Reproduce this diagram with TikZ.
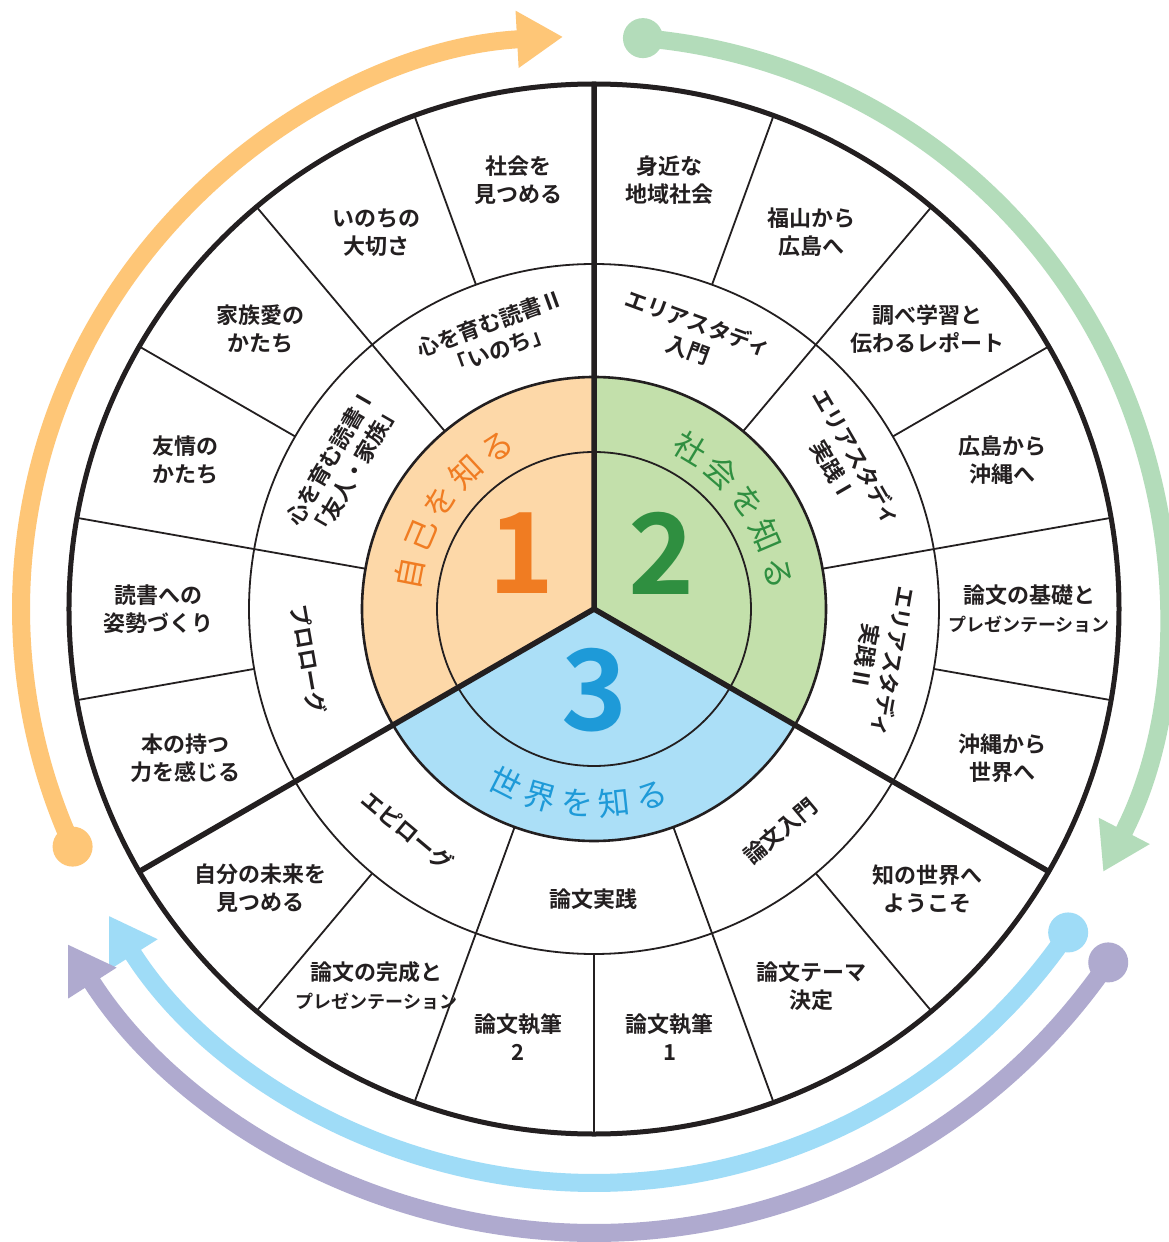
\documentclass[tikz,border=0pt]{standalone}
\usepackage{fontspec}
\newfontfamily\jpfont{Noto Sans CJK JP}[BoldFont={Noto Sans CJK JP Bold}]
\usetikzlibrary{arrows.meta}
\definecolor{ink}{HTML}{231F20}
\definecolor{orfill}{HTML}{FDD8A8}
\definecolor{grfill}{HTML}{C3E0AB}
\definecolor{blfill}{HTML}{ABDFF7}
\definecolor{ortext}{HTML}{F07C22}
\definecolor{grtext}{HTML}{2F8F40}
\definecolor{bltext}{HTML}{1E9AD8}
\definecolor{orarrow}{HTML}{FEC677}
\definecolor{grarrow}{HTML}{B3DCBA}
\definecolor{blarrow}{HTML}{9FDCF7}
\definecolor{puarrow}{HTML}{AFAACF}
\tikzset{ring/.style={draw=ink, line width=1.8pt},
  rim/.style={draw=ink, line width=5pt},
  divide/.style={draw=ink, line width=5.5pt},
  lab/.style={font=\jpfont\bfseries\fontsize{22}{28}\selectfont, align=center, text=ink, inner sep=0pt},
  curved/.style={font=\jpfont\fontsize{32}{32}\selectfont, inner sep=0pt},
  digit/.style={font=\jpfont\bfseries\fontsize{112}{112}\selectfont, inner sep=0pt},
  cyc/.style={line width=18pt, -{Triangle[length=46pt,width=54pt]}}}

\begin{document}
\begin{tikzpicture}[x=1pt,y=1pt]
     \useasboundingbox (-594,-633) rectangle (575,609);
     \fill[white] (-594,-633) rectangle (575,609);
     % three fields
     \fill[orfill] (0,0) -- (90:232) arc[start angle=90, end angle=210, radius=232] -- cycle;
     \fill[grfill] (0,0) -- (-30:232) arc[start angle=-30, end angle=90, radius=232] -- cycle;
     \fill[blfill] (0,0) -- (210:232) arc[start angle=210, end angle=330, radius=232] -- cycle;
     \draw[ring] (0,0) circle[radius=157];
     \draw[ring, line width=2.6pt] (0,0) circle[radius=232];
     \draw[ring] (0,0) circle[radius=345];
     \foreach \a in {10,50,130,170,250,290} \draw[ring] (\a:232) -- (\a:345);
     \foreach \a in {10,30,50,70,110,130,150,170,190,230,250,270,290,310,350} \draw[ring] (\a:345) -- (\a:525);
     \draw[divide] (90:525) -- (0,0) -- (210:525) (0,0) -- (330:525);
     \draw[rim] (0,0) circle[radius=525];

     % cycle arrows
     \coordinate (os) at (204.5:573);
     \coordinate (gs) at (85.1:573);
     \coordinate (bs) at (-34.3:574);
     \coordinate (ps) at (-34.5:624);
     \fill[orarrow] (os) circle[radius=20];
     \fill[grarrow] (gs) circle[radius=20];
     \fill[blarrow] (bs) circle[radius=20];
     \fill[puarrow] (ps) circle[radius=20];
     \draw[cyc, orarrow] (os) arc[start angle=204.5, end angle=93.1, radius=573];
     \draw[cyc, grarrow] (gs) arc[start angle=85.1, end angle=-27.3, radius=573];
     \draw[cyc, blarrow] (bs) arc[start angle=-34.3, end angle=-147.7, radius=574];
     \draw[cyc, puarrow] (ps) arc[start angle=-34.5, end angle=-147.5, radius=624];

     % field names and numbers
     \foreach \c [count=\i] in {自,己,を,知,る}
       \node[curved, text=ortext, rotate={91-12*\i}] (self\i) at ({181-12*\i}:188) {\c};
     \foreach \c [count=\i] in {社,会,を,知,る}
       \node[curved, text=grtext, rotate={-19-12*\i}] (soc\i) at ({71-12*\i}:187) {\c};
     \foreach \c [count=\i] in {世,界,を,知,る}
       \node[curved, text=bltext, rotate={322+11*\i}] (wld\i) at ({232+11*\i}:195) {\c};
     \node[digit, text=ortext] (one) at (-72,56) {1};
     \node[digit, text=grtext] (two) at (68,56) {2};
     \node[digit, text=bltext] (three) at (1,-81) {3};

     % middle ring
     \node[lab, rotate=20]   (mid110) at (110:290) {心を育む読書Ⅱ\\「いのち」};
     \node[lab, rotate=60]   (mid150) at (150:290) {心を育む読書Ⅰ\\「友人・家族」};
     \node[lab, rotate=-80]  (mid190) at (190:290) {プロローグ};
     \node[lab, rotate=-20]  (mid70)  at (70:290)  {エリアスタディ\\入門};
     \node[lab, rotate=-60]  (mid30)  at (30:290)  {エリアスタディ\\実践Ⅰ};
     \node[lab, rotate=-100] (mid350) at (-10:290) {エリアスタディ\\実践Ⅱ};
     \node[lab, rotate=-40]  (mid230) at (230:290) {エピローグ};
     \node[lab]              (mid270) at (270:290) {論文実践};
     \node[lab, rotate=40]   (mid310) at (310:290) {論文入門};

     % outer ring
     \node[lab] (out100) at (100:435) {社会を\\見つめる};
     \node[lab] (out120) at (120:435) {いのちの\\大切さ};
     \node[lab] (out140) at (140:435) {家族愛の\\かたち};
     \node[lab] (out160) at (160:435) {友情の\\かたち};
     \node[lab] (out180) at (180:435) {読書への\\姿勢づくり};
     \node[lab] (out200) at (200:435) {本の持つ\\力を感じる};
     \node[lab] (out80)  at (80:435)  {身近な\\地域社会};
     \node[lab] (out60)  at (60:435)  {福山から\\広島へ};
     \node[lab] (out40)  at (40:435)  {調べ学習と\\伝わるレポート};
     \node[lab] (out20)  at (20:435)  {広島から\\沖縄へ};
     \node[lab] (out0)   at (0:435)   {論文の基礎と\\{\fontsize{18}{28}\selectfont プレゼンテーション}};
     \node[lab] (out340) at (-20:435) {沖縄から\\世界へ};
     \node[lab] (out220) at (220:435) {自分の未来を\\見つめる};
     \node[lab] (out240) at (240:435) {論文の完成と\\{\fontsize{18}{28}\selectfont プレゼンテーション}};
     \node[lab] (out260) at (260:435) {論文執筆\\2};
     \node[lab] (out280) at (280:435) {論文執筆\\1};
     \node[lab] (out300) at (300:435) {論文テーマ\\決定};
     \node[lab] (out320) at (320:435) {知の世界へ\\ようこそ};
    \end{tikzpicture}
\end{document}
